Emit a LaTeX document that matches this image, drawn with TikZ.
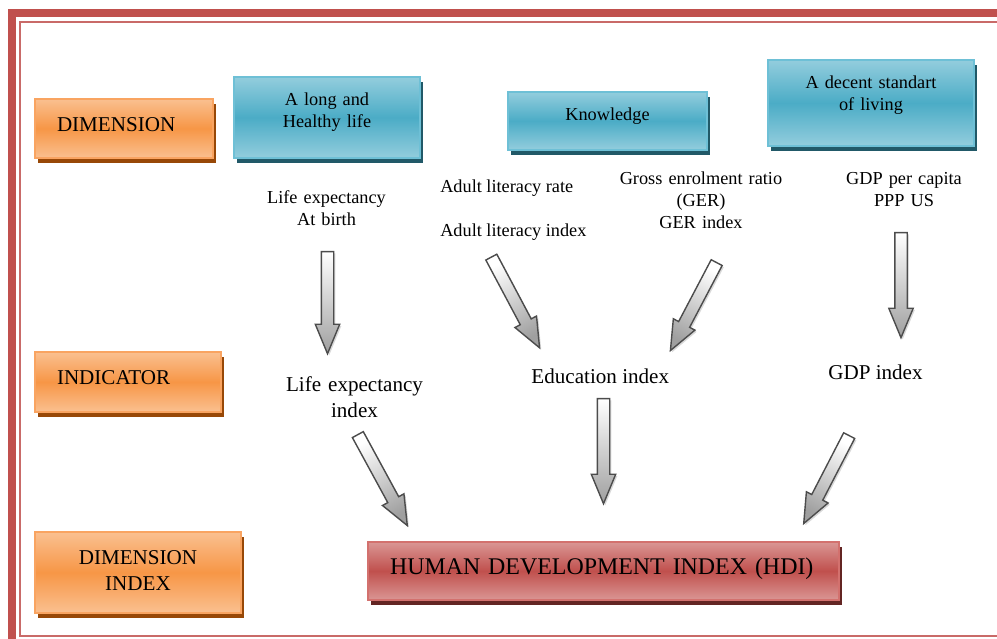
\documentclass[tikz,border=0pt]{standalone}
\usepackage{fontspec}
\setmainfont{Liberation Serif}
\usepackage{tikz}
\usetikzlibrary{positioning}
\usetikzlibrary{calc}
\usetikzlibrary{shadows}
\usetikzlibrary{shapes.arrows}

\definecolor{framered}{HTML}{C0504D}
\definecolor{orangemid}{HTML}{F79646}
\definecolor{orangelight}{HTML}{FAC090}
\definecolor{orangeline}{HTML}{F9A461}
\definecolor{orangeshadow}{HTML}{984807}
\definecolor{bluemid}{HTML}{4BACC6}
\definecolor{bluelight}{HTML}{93CDDD}
\definecolor{blueline}{HTML}{6EC0D6}
\definecolor{blueshadow}{HTML}{215968}
\definecolor{redmid}{HTML}{C0504D}
\definecolor{redlight}{HTML}{DA9694}
\definecolor{redline}{HTML}{D3716E}
\definecolor{redshadow}{HTML}{632523}

\tikzset{
  levelbox/.style={top color=orangelight, bottom color=orangelight, middle color=orangemid,
    draw=orangeline, line width=1pt,
    drop shadow={shadow xshift=0.075cm, shadow yshift=-0.125cm, fill=orangeshadow, opacity=1},
    font=\fontsize{15}{18.5}\selectfont, align=left,
    inner xsep=0.55cm, inner ysep=0.1cm, text height=0.72cm},
  dimbox/.style={top color=bluelight, bottom color=bluelight, middle color=bluemid,
    draw=blueline, line width=1pt,
    drop shadow={shadow xshift=0.075cm, shadow yshift=-0.125cm, fill=blueshadow, opacity=1},
    font=\fontsize{13}{15.3}\selectfont, align=center,
    inner xsep=0.1cm, inner ysep=0.1cm, text height=0.625cm},
  hdibox/.style={top color=redlight, bottom color=redlight, middle color=redmid,
    draw=redline, line width=1pt,
    drop shadow={shadow xshift=0.075cm, shadow yshift=-0.125cm, fill=redshadow, opacity=1},
    font=\fontsize{17}{20}\selectfont, align=left,
    inner xsep=0.55cm, inner ysep=0.1cm, text height=0.725cm, text depth=0.525cm},
  inputtext/.style={font=\fontsize{13}{15.3}\selectfont, inner sep=0, anchor=base, align=center},
  indextext/.style={font=\fontsize{15}{17.8}\selectfont, inner sep=0, anchor=base, align=center},
  fatarrow/.style={single arrow, single arrow head extend=0.15cm, single arrow tip angle=45,
    inner xsep=0pt, inner ysep=0.1375cm, minimum width=0pt,
    draw=gray!60!black, line width=1pt, top color=white, bottom color=gray!75,
    drop shadow={shadow xshift=1.2pt, shadow yshift=-1.2pt, opacity=0.3}}
}

% block arrow from one named point to another
\newcommand{\fatarrow}[2]{%
  \path let \p1=($(#2)-(#1)$), \n1={atan2(\y1,\x1)}, \n2={veclen(\x1,\y1)},
    \n3={atan2(\y1,\x1)+90} in
    node[fatarrow, anchor=tail, rotate=\n1, minimum height=\n2, shading angle=\n3] at (#1) {};}

\begin{document}
\begin{tikzpicture}
\useasboundingbox (0,0) rectangle (24.925,-15.975);
\clip (0,0) rectangle (24.925,-15.975);

% page frame
\draw[framered, line width=0.19cm] (0.304,-0.325) rectangle (26,-17);
\draw[framered!85!white, line width=0.05cm] (0.51,-0.5425) rectangle (25.6,-15.9);

% levels
\node[levelbox, text width=3.35cm, text depth=0.56cm] (dim) at (3.1,-3.2125) {DIMENSION};
\node[levelbox, text width=3.55cm, text depth=0.575cm] (ind) at (3.2,-9.55) {INDICATOR};
\node[levelbox, text width=4.05cm, align=center, text depth=1.1cm] (dimidx) at (3.45,-14.3125) {DIMENSION\\INDEX};

% dimensions
\node[dimbox, text width=4.45cm, text depth=1.2cm] (health) at (8.175,-2.9375) {A long and\\Healthy life};
\node[dimbox, text width=4.775cm, text depth=0.625cm] (know) at (15.1875,-3.025) {Knowledge};
\node[dimbox, text width=4.95cm, text depth=1.325cm] (living) at (21.775,-2.575) {A decent standart\\of living};

% indicators
\node[inputtext, text width=3.5cm] (lifebirth) at (8.1625,-5.1) {Life expectancy\\At birth};
\node[inputtext, anchor=base west] (litrate) at (11.0,-4.825) {Adult literacy rate};
\node[inputtext, anchor=base west] (litindex) at (11.0,-5.925) {Adult literacy index};
\node[inputtext, text width=4.5cm] (ger) at (17.525,-4.625) {Gross enrolment ratio\\(GER)\\GER index};
\node[inputtext, text width=3.5cm] (gdpcap) at (22.6,-4.625) {GDP per capita\\PPP US};

\node[indextext, text width=4cm] (leindex) at (8.8625,-9.8) {Life expectancy\\index};
\node[indextext] (eduindex) at (15.0075,-9.6) {Education index};
\node[indextext] (gdpindex) at (21.8875,-9.5) {GDP index};

\node[hdibox, text width=10.675cm] (hdi) at (15.0875,-14.275) {HUMAN DEVELOPMENT INDEX (HDI)};

% arrow ends
\coordinate (lifes) at (8.1875,-6.275);   \coordinate (lifee) at (8.1875,-8.825);
\coordinate (lits) at (12.275,-6.4125);   \coordinate (lite) at (13.4825,-8.6825);
\coordinate (gers) at (17.925,-6.55);     \coordinate (gere) at (16.7675,-8.75);
\coordinate (gdps) at (22.525,-5.8);      \coordinate (gdpe) at (22.525,-8.425);
\coordinate (les) at (8.9375,-10.85);     \coordinate (lee) at (10.175,-13.125);
\coordinate (edus) at (15.0875,-9.95);    \coordinate (edue) at (15.0875,-12.575);
\coordinate (gdpis) at (21.2375,-10.875); \coordinate (gdpie) at (20.1,-13.075);

\fatarrow{lifes}{lifee}
\fatarrow{lits}{lite}
\fatarrow{gers}{gere}
\fatarrow{gdps}{gdpe}
\fatarrow{les}{lee}
\fatarrow{edus}{edue}
\fatarrow{gdpis}{gdpie}
\end{tikzpicture}
\end{document}
